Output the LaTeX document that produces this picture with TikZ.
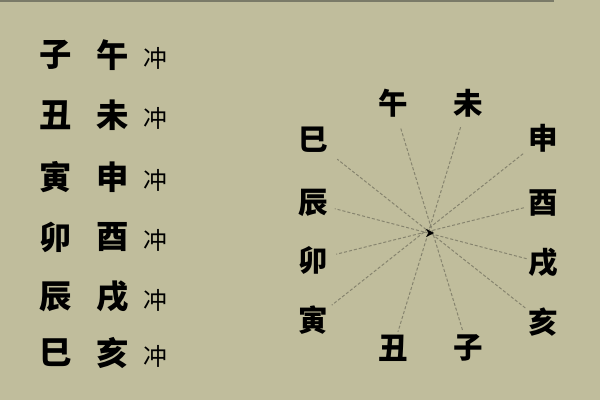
\documentclass[tikz,border=0pt]{standalone}
\usepackage{fontspec}
\usepackage{xcolor}
\usepackage{tikz}
\usetikzlibrary{arrows.meta}
\newfontfamily\cjk{Noto Sans CJK SC}
\definecolor{bgOlive}{HTML}{C0BD9C}
\definecolor{lineGray}{HTML}{86846E}
\definecolor{topLine}{HTML}{7A7A68}
\tikzstyle{tsBig} = [
    text=black,
    inner sep=0pt,
    font=\cjk\bfseries\fontsize{23}{23}\selectfont
]
\tikzstyle{tsDial} = [
    tsBig,
    font=\cjk\bfseries\fontsize{21}{21}\selectfont
]
\tikzstyle{tsChong} = [
    text=black,
    inner sep=0pt,
    font=\cjk\fontsize{17}{17}\selectfont
]
\tikzstyle{tsDash} = [
    draw=lineGray,
    line width=0.7pt,
    dash pattern=on 2.2pt off 1.4pt
]

\begin{document}
\begin{tikzpicture}[x=0.025cm, y=-0.025cm]

        \fill[bgOlive] (0,0) rectangle (600,400);
        \useasboundingbox (0,0) rectangle (600,400);
        \fill[topLine] (0,0) rectangle (554,2);

        % left list
        \node[tsBig] (l1a) at (56,55) {子};
        \node[tsBig] (l1b) at (113,55) {午};
        \node[tsChong] (l1c) at (155,58) {冲};
        \node[tsBig] (l2a) at (56,115) {丑};
        \node[tsBig] (l2b) at (113,115) {未};
        \node[tsChong] (l2c) at (155,118) {冲};
        \node[tsBig] (l3a) at (56,177) {寅};
        \node[tsBig] (l3b) at (113,177) {申};
        \node[tsChong] (l3c) at (155,180) {冲};
        \node[tsBig] (l4a) at (56,237) {卯};
        \node[tsBig] (l4b) at (113,237) {酉};
        \node[tsChong] (l4c) at (155,240) {冲};
        \node[tsBig] (l5a) at (56,297) {辰};
        \node[tsBig] (l5b) at (113,297) {戌};
        \node[tsChong] (l5c) at (155,300) {冲};
        \node[tsBig] (l6a) at (56,353) {巳};
        \node[tsBig] (l6b) at (113,353) {亥};
        \node[tsChong] (l6c) at (155,356) {冲};

        % dial
        \node[tsDial] (wu) at (393,103) {午};
        \node[tsDial] (wei) at (468,103) {未};
        \node[tsDial] (shen) at (543,138) {申};
        \node[tsDial] (you) at (543,203) {酉};
        \node[tsDial] (xu) at (543,263) {戌};
        \node[tsDial] (hai) at (543,322) {亥};
        \node[tsDial] (zi) at (468,348) {子};
        \node[tsDial] (chou) at (393,348) {丑};
        \node[tsDial] (yin) at (313,320) {寅};
        \node[tsDial] (mao) at (313,260) {卯};
        \node[tsDial] (chen) at (313,203) {辰};
        \node[tsDial] (si) at (313,140) {巳};

        \draw[tsDash, shorten <=19pt, shorten >=13pt] (wu.center) -- (zi.center);
        \draw[tsDash, shorten <=18pt, shorten >=12pt] (wei.center) -- (chou.center);
        \draw[tsDash, shorten <=18pt, shorten >=17pt] (shen.center) -- (yin.center);
        \draw[tsDash, shorten <=14pt, shorten >=17pt] (you.center) -- (mao.center);
        \draw[tsDash, shorten <=12pt, shorten >=16pt] (xu.center) -- (chen.center);
        \draw[tsDash, shorten <=16pt, shorten >=22pt] (hai.center) -- (si.center);

        \coordinate (hub) at (430,233);
        \fill[black] ([shift={(-4,-4)}]hub) -- ([shift={(4,0)}]hub)
            -- ([shift={(-4,4)}]hub) -- ([shift={(-1.5,0)}]hub) -- cycle;

\end{tikzpicture}
\end{document}
